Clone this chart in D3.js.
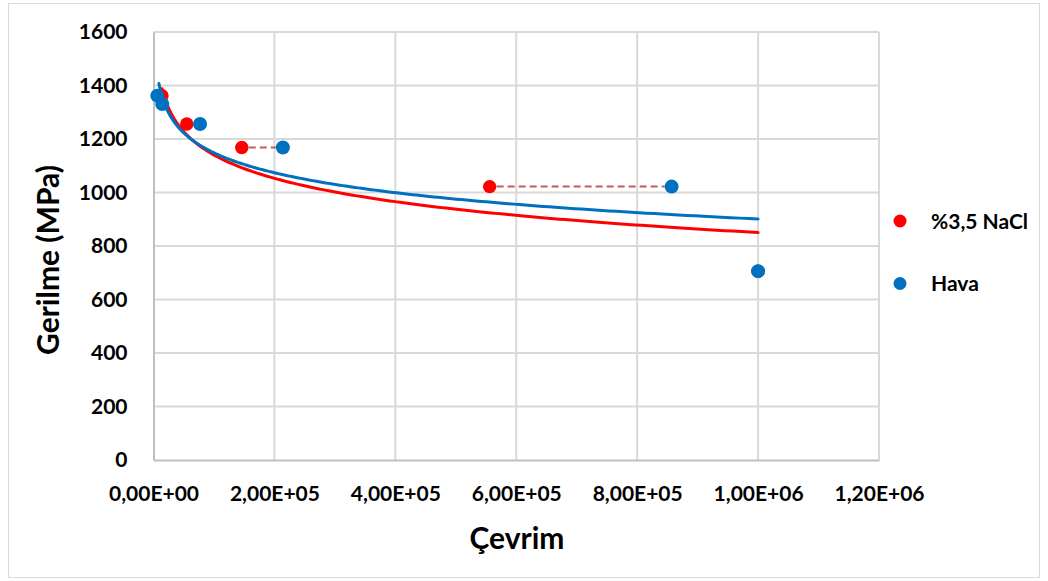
<!DOCTYPE html>
<html>
<head>
<meta charset="utf-8">
<script src="https://cdn.jsdelivr.net/npm/d3@7"></script>
<style>
  html, body { margin: 0; padding: 0; background: #ffffff; }
  svg { display: block; }
  text { font-family: Lato, "Open Sans", "Liberation Sans", sans-serif; font-weight: 700; fill: #000; }
</style>
</head>
<body>
<svg id="chart" width="1048" height="581"></svg>
<script>
// Fatigue data: cycles to failure (Çevrim) and stress amplitude (Gerilme, MPa)
const naclCycles  = [1.4e4, 5.5e4, 1.46e5, 5.56e5, 1.0e6];
const naclStress  = [1362, 1256, 1168, 1022, 706];
const havaCycles  = [6.3e3, 1.45e4, 7.7e4, 2.14e5, 8.57e5, 1.0e6];
const havaStress  = [1362, 1331, 1256, 1168, 1022, 706];

// Logarithmic trendlines  S = intercept + slope * ln(N)  over [from, to]
const naclTrend = { intercept: 2591, slope: -126.0, from: 1.4e4, to: 1.0e6 };
const havaTrend = { intercept: 2386, slope: -107.5, from: 9.0e3, to: 1.0e6 };

// Pairs at equal stress joined by a dashed connector (index in NaCl, index in Hava)
const connectorPairs = [[1, 2], [2, 3], [3, 4]];

const xTicks = [0, 2e5, 4e5, 6e5, 8e5, 1e6, 1.2e6];
const yTicks = [0, 200, 400, 600, 800, 1000, 1200, 1400, 1600];
const seriesNames = ["%3,5 NaCl", "Hava"];
const seriesColors = ["#FF0000", "#0070C0"];

const svg = d3.select("#chart");

const x = d3.scaleLinear().domain([0, 1.2e6]).range([153.5, 879]);
const y = d3.scaleLinear().domain([0, 1600]).range([460, 32]);

// Outer chart frame
svg.append("rect")
  .attr("x", 8.5).attr("y", 3.5).attr("width", 1031).attr("height", 574)
  .attr("fill", "#fff").attr("stroke", "#d9d9d9").attr("stroke-width", 1);

const fmtX = v => {
  if (v === 0) return "0,00E+00";
  const e = Math.floor(Math.log10(v));
  const m = (v / Math.pow(10, e)).toFixed(2).replace(".", ",");
  return m + "E+" + String(e).padStart(2, "0");
};

// Gridlines
const grid = svg.append("g");
grid.selectAll("line.gy").data(yTicks.filter(d => d > 0)).join("line")
  .attr("x1", x(0)).attr("x2", x(1.2e6))
  .attr("y1", d => y(d)).attr("y2", d => y(d))
  .attr("stroke", "#d9d9d9").attr("stroke-width", 2);
grid.selectAll("line.gx").data(xTicks.filter(d => d > 0)).join("line")
  .attr("x1", d => x(d)).attr("x2", d => x(d))
  .attr("y1", y(0)).attr("y2", y(1600))
  .attr("stroke", "#d9d9d9").attr("stroke-width", 2);

// Axes
const xAxis = svg.append("g").attr("transform", `translate(0,${y(0)})`)
  .call(d3.axisBottom(x).tickValues(xTicks).tickFormat(fmtX).tickSize(0).tickPadding(26));
const yAxis = svg.append("g").attr("transform", `translate(${x(0)},0)`)
  .call(d3.axisLeft(y).tickValues(yTicks).tickFormat(d3.format("d")).tickSize(0).tickPadding(26));
[xAxis, yAxis].forEach(a => {
  a.select(".domain").attr("stroke", "#bfbfbf").attr("stroke-width", 2);
  a.selectAll("text").attr("font-size", 21).attr("font-family", null);
});

// Trendlines
function trendPoints(t) {
  const n = 300, pts = [];
  const l0 = Math.log(t.from), l1 = Math.log(t.to);
  for (let i = 0; i <= n; i++) {
    const lnN = l0 + (l1 - l0) * i / n;
    pts.push([Math.exp(lnN), t.intercept + t.slope * lnN]);
  }
  return pts;
}
const line = d3.line().x(d => x(d[0])).y(d => y(d[1]));
[[naclTrend, seriesColors[0]], [havaTrend, seriesColors[1]]].forEach(([t, c]) => {
  svg.append("path").datum(trendPoints(t))
    .attr("d", line).attr("fill", "none")
    .attr("stroke", c).attr("stroke-width", 3).attr("stroke-linecap", "round");
});

// Dashed connectors between runs at equal stress
svg.append("g").selectAll("line").data(connectorPairs).join("line")
  .attr("x1", d => x(naclCycles[d[0]]) + 7).attr("x2", d => x(havaCycles[d[1]]) - 7)
  .attr("y1", d => y(naclStress[d[0]])).attr("y2", d => y(havaStress[d[1]]))
  .attr("stroke", "#C55A5A").attr("stroke-width", 2).attr("stroke-dasharray", "7,4");

// Markers
svg.append("g").selectAll("circle").data(naclCycles.map((n, i) => [n, naclStress[i]])).join("circle")
  .attr("cx", d => x(d[0])).attr("cy", d => y(d[1])).attr("r", 6.7).attr("fill", seriesColors[0]);
svg.append("g").selectAll("circle").data(havaCycles.map((n, i) => [n, havaStress[i]])).join("circle")
  .attr("cx", d => x(d[0])).attr("cy", d => y(d[1])).attr("r", 7).attr("fill", seriesColors[1]);

// Axis titles
svg.append("text").attr("x", 517).attr("y", 549).attr("text-anchor", "middle")
  .attr("font-size", 30).text("Çevrim");
svg.append("text").attr("transform", "translate(59,260) rotate(-90)").attr("text-anchor", "middle")
  .attr("font-size", 30).text("Gerilme (MPa)");

// Legend
const legend = svg.append("g");
seriesNames.forEach((name, i) => {
  const cy = 221 + i * 62.5;
  legend.append("circle").attr("cx", 900).attr("cy", cy).attr("r", 6.5).attr("fill", seriesColors[i]);
  legend.append("text").attr("x", 931).attr("y", cy + 7.5).attr("font-size", 21).text(name);
});
</script>
</body>
</html>
